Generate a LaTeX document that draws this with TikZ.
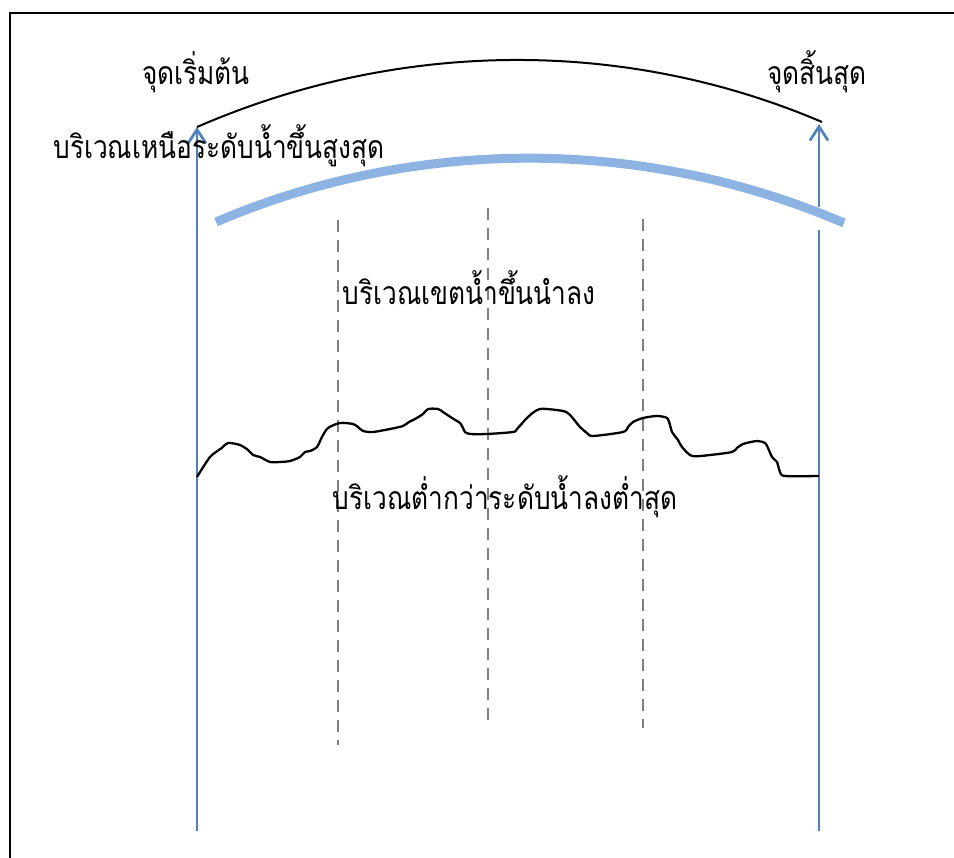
\documentclass[tikz,border=0pt]{standalone}
\usepackage{fontspec}
\newfontfamily\thaifont[Script=Thai,FakeStretch=0.82]{Loma}
\usetikzlibrary{arrows.meta}
\definecolor{arrowblue}{HTML}{4F81BD}
\definecolor{arcblue}{HTML}{8DB3E2}
\definecolor{dashgray}{HTML}{7F7F7F}
\begin{document}
\begin{tikzpicture}[x=1pt,y=-1pt,
  lbl/.style={font=\thaifont\fontsize{32}{36}\selectfont, inner sep=0pt, anchor=base},
  uparrow/.style={draw=arrowblue, line width=2.7pt, -{Straight Barb[length=14pt,width=18pt,line width=2.7pt]}},
  bluerod/.style={draw=arrowblue, line width=2.7pt},
  tidearc/.style={draw=arcblue, line width=9pt},
  rangearc/.style={draw=black, line width=2pt},
  zoneline/.style={draw=dashgray, line width=2.6pt, dash pattern=on 12pt off 8pt},
  seabed/.style={draw=black, line width=2.3pt, line join=round}]
\useasboundingbox (0,0) rectangle (954,858);
% frame
\draw[line width=2.5pt] (10,858) -- (10,13) -- (954,13);
% coordinates
\coordinate (Lbot) at (197,831);
\coordinate (Ltop) at (197,127);
\coordinate (Rbot) at (819,831);
\coordinate (Rgap1) at (819,230);
\coordinate (Rgap2) at (819,207);
\coordinate (Rtop) at (819,124);
\coordinate (Rend) at (822,122);
% dashed zone lines
\coordinate (d1t) at (338,220); \coordinate (d1b) at (338,745);
\coordinate (d2t) at (488,208); \coordinate (d2b) at (488,723);
\coordinate (d3t) at (643,219); \coordinate (d3b) at (643,728);
\draw[zoneline] (d1t) -- (d1b);
\draw[zoneline] (d2t) -- (d2b);
\draw[zoneline] (d3t) -- (d3b);
% blue arrows
\draw[uparrow] (Lbot) -- (Ltop);
\draw[bluerod] (Rbot) -- (Rgap1);
\draw[uparrow] (Rgap2) -- (Rtop);
% black range arc
\draw[rangearc] (Ltop) .. controls (397,40) and (623,37) .. (Rend);
% high tide arc
\coordinate (A1) at (216,222);
\coordinate (A2) at (844,223);
\draw[tidearc] (A1) .. controls (416,136.5) and (644,137) .. (A2);
% seabed profile
\draw[seabed] plot[smooth, tension=0.45] coordinates {
 (197,477) (210,457) (221.7,448) (228,443) (240,445) (248,450) (253,455)
 (260,457) (270,462) (280,462) (290,461) (300,457) (305,452) (310,451)
 (317,447) (322,437) (328,428) (340,423) (353,424) (358,427) (363,431)
 (373,432) (390,429) (403,426) (409,422) (415,419) (423,414) (428,409)
 (438,409) (443,412) (452,418) (460,423) (463,428) (465,432) (470,434)
 (487,434) (513,432) (517,429) (528,417) (540,409) (563,411) (570,415)
 (580,427) (587,433) (593,436) (623,432) (628,427) (633,422) (643,418)
 (657,416) (667,418) (670,425) (672,432) (678,440) (682,447) (692,456)
 (710,455) (732,452) (737,448) (743,444) (757,441) (765,443) (768,448)
 (772,457) (777,462) (780,472) (785,476) (819,476)};
% labels
\node[lbl] (start) at (196,85) {จุดเริ่มต้น};
\node[lbl] (finish) at (817,85) {จุดสิ้นสุด};
\node[lbl] (above) at (219,159) {บริเวณเหนือระดับน้ำขึ้นสูงสุด};
\node[lbl] (inter) at (469,305) {บริเวณเขตน้ำขึ้นนำลง};
\node[lbl] (below) at (505,510) {บริเวณต่ำกว่าระดับน้ำลงต่ำสุด};
\end{tikzpicture}
\end{document}
